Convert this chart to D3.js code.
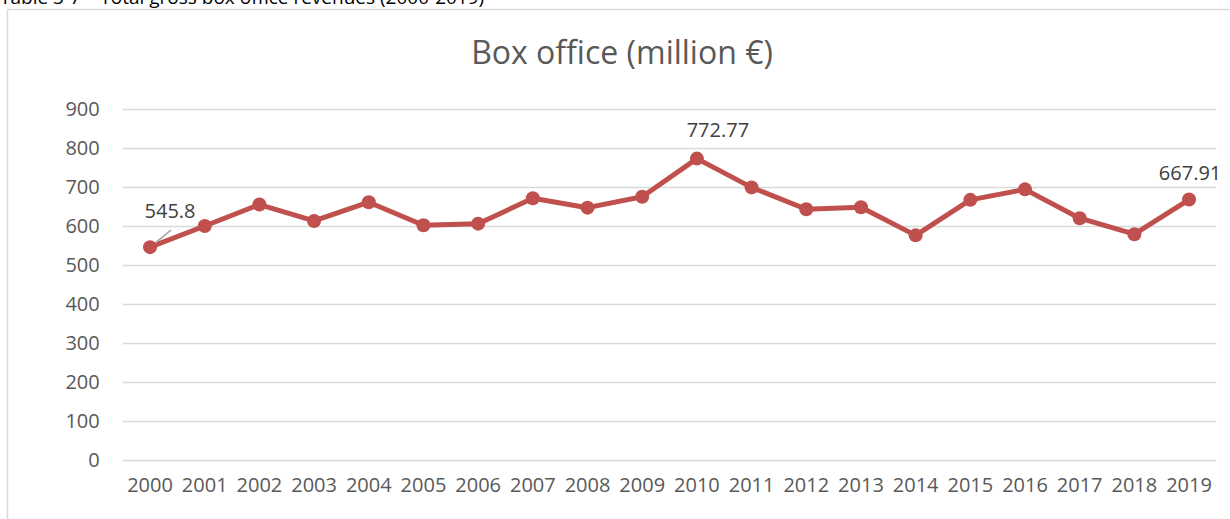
<!DOCTYPE html>
<html>
<head>
<meta charset="utf-8">
<script src="https://cdn.jsdelivr.net/npm/d3@7"></script>
<style>
  body { margin: 0; background: #fff; }
  svg { display: block; font-family: "Open Sans", sans-serif; }
</style>
</head>
<body>
<script>
// DATA
var years = ["2000","2001","2002","2003","2004","2005","2006","2007","2008","2009",
             "2010","2011","2012","2013","2014","2015","2016","2017","2018","2019"];
var boxOffice = [545.8, 600, 655, 613, 661, 602, 606, 671, 647, 675,
                 772.77, 699, 643, 648, 576, 667, 694, 620, 579, 667.91];
var yTicks = [0, 100, 200, 300, 400, 500, 600, 700, 800, 900];
var labelled = ["2000", "2010", "2019"];

var width = 1230, height = 519;
var svg = d3.select("body").append("svg")
    .attr("width", width)
    .attr("height", height);

// caption above the chart frame (clipped by the page edge, as in the source)
svg.append("text")
    .attr("x", 0)
    .attr("y", 4)
    .attr("font-size", 19)
    .attr("fill", "#000")
    .text("Table 3-7 \u2013 Total gross box office revenues (2000-2019)");

// chart frame
svg.append("rect")
    .attr("x", 7.5)
    .attr("y", 9.5)
    .attr("width", 1300)
    .attr("height", 600)
    .attr("fill", "#fff")
    .attr("stroke", "#d9d9d9")
    .attr("stroke-width", 1.5);

// title
svg.append("text")
    .attr("x", 622)
    .attr("y", 64)
    .attr("text-anchor", "middle")
    .attr("font-size", 32)
    .attr("fill", "#595959")
    .text("Box office (million \u20ac)");

// scales
var x = d3.scaleBand().domain(years).range([122.7, 1216.4]);
var y = d3.scaleLinear().domain([0, 900]).range([460, 109]);
var cx = function(d) { return x(d) + x.bandwidth() / 2; };

// gridlines + y labels
var yAxis = svg.append("g")
    .attr("transform", "translate(122.7,0)")
    .call(d3.axisLeft(y).tickValues(yTicks).tickSize(-(1216.4 - 122.7)).tickPadding(23));
yAxis.select(".domain").remove();
yAxis.selectAll(".tick line").attr("stroke", "#d9d9d9").attr("stroke-width", 1.5);
yAxis.selectAll(".tick text")
    .attr("font-family", "Open Sans")
    .attr("font-size", 20)
    .attr("fill", "#595959");

// x labels
var xAxis = svg.append("g")
    .attr("transform", "translate(0,460)")
    .call(d3.axisBottom(x).tickSize(0).tickPadding(18));
xAxis.select(".domain").remove();
xAxis.selectAll(".tick text")
    .attr("font-family", "Open Sans")
    .attr("font-size", 20)
    .attr("fill", "#595959");

// line
var line = d3.line()
    .x(function(d, i) { return cx(years[i]); })
    .y(function(d) { return y(d); });

svg.append("path")
    .datum(boxOffice)
    .attr("fill", "none")
    .attr("stroke", "#c0504d")
    .attr("stroke-width", 5)
    .attr("stroke-linejoin", "round")
    .attr("d", line);

// leader line for first label
svg.append("line")
    .attr("x1", cx("2000"))
    .attr("y1", y(boxOffice[0]))
    .attr("x2", cx("2000") + 21)
    .attr("y2", y(boxOffice[0]) - 17)
    .attr("stroke", "#a6a6a6")
    .attr("stroke-width", 1.5);

// markers
svg.selectAll("circle.pt")
    .data(boxOffice)
    .enter().append("circle")
    .attr("class", "pt")
    .attr("cx", function(d, i) { return cx(years[i]); })
    .attr("cy", function(d) { return y(d); })
    .attr("r", 7)
    .attr("fill", "#c0504d");

// data labels
var labelOffset = { "2000": [20, -29], "2010": [21, -22], "2019": [1, -20] };
svg.selectAll("text.dl")
    .data(labelled)
    .enter().append("text")
    .attr("class", "dl")
    .attr("x", function(d) { return cx(d) + labelOffset[d][0]; })
    .attr("y", function(d) { return y(boxOffice[years.indexOf(d)]) + labelOffset[d][1]; })
    .attr("text-anchor", "middle")
    .attr("font-size", 20)
    .attr("fill", "#404040")
    .text(function(d) { return String(boxOffice[years.indexOf(d)]); });
</script>
</body>
</html>
